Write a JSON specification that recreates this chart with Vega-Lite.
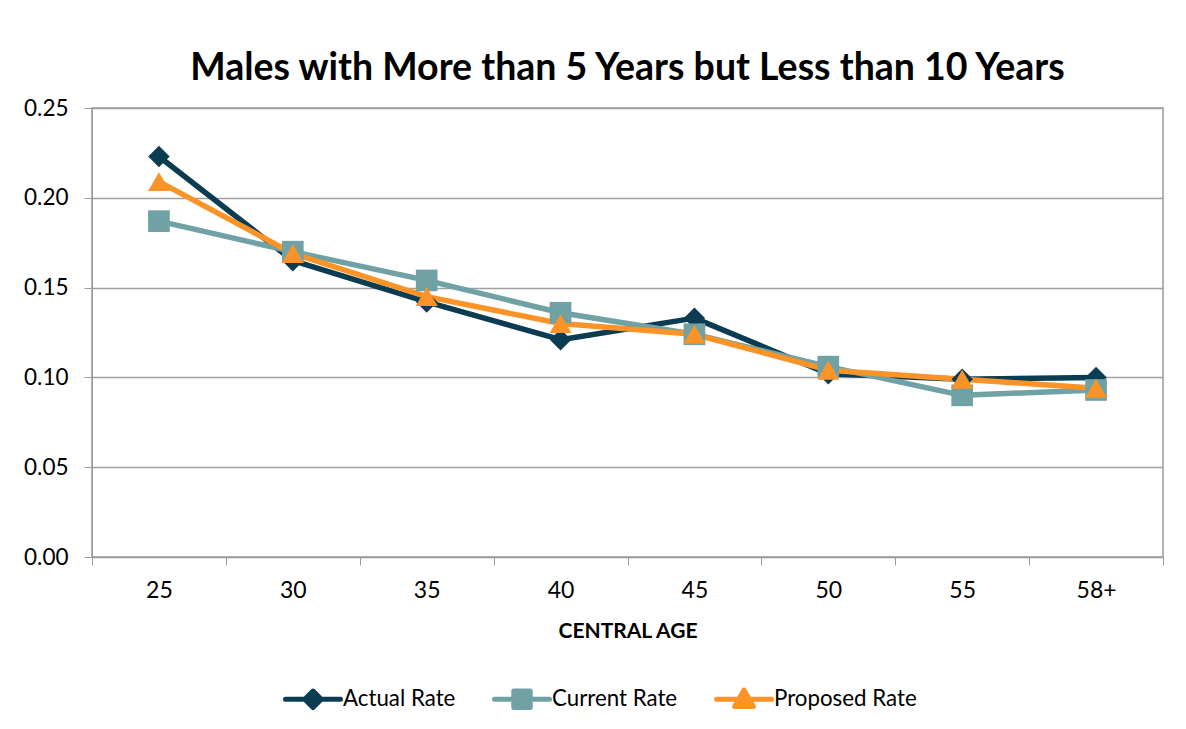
{
  "$schema": "https://vega.github.io/schema/vega-lite/v6.json",
  "width": 1071,
  "height": 449,
  "autosize": {"type": "none"},
  "padding": {"left": 92, "top": 108, "right": 23, "bottom": 172},
  "background": "white",
  "title": {
    "text": "Males with More than 5 Years but Less than 10 Years",
    "font": "Lato",
    "fontSize": 37.5,
    "fontWeight": "bold",
    "color": "#000000",
    "anchor": "middle",
    "offset": 10
  },
  "data": {
    "values": [
      {"age": "25", "series": "Actual Rate", "rate": 0.223},
      {"age": "30", "series": "Actual Rate", "rate": 0.165},
      {"age": "35", "series": "Actual Rate", "rate": 0.142},
      {"age": "40", "series": "Actual Rate", "rate": 0.121},
      {"age": "45", "series": "Actual Rate", "rate": 0.133},
      {"age": "50", "series": "Actual Rate", "rate": 0.102},
      {"age": "55", "series": "Actual Rate", "rate": 0.099},
      {"age": "58+", "series": "Actual Rate", "rate": 0.100},
      {"age": "25", "series": "Current Rate", "rate": 0.187},
      {"age": "30", "series": "Current Rate", "rate": 0.170},
      {"age": "35", "series": "Current Rate", "rate": 0.154},
      {"age": "40", "series": "Current Rate", "rate": 0.136},
      {"age": "45", "series": "Current Rate", "rate": 0.124},
      {"age": "50", "series": "Current Rate", "rate": 0.106},
      {"age": "55", "series": "Current Rate", "rate": 0.090},
      {"age": "58+", "series": "Current Rate", "rate": 0.093},
      {"age": "25", "series": "Proposed Rate", "rate": 0.209},
      {"age": "30", "series": "Proposed Rate", "rate": 0.169},
      {"age": "35", "series": "Proposed Rate", "rate": 0.145},
      {"age": "40", "series": "Proposed Rate", "rate": 0.130},
      {"age": "45", "series": "Proposed Rate", "rate": 0.124},
      {"age": "50", "series": "Proposed Rate", "rate": 0.104},
      {"age": "55", "series": "Proposed Rate", "rate": 0.099},
      {"age": "58+", "series": "Proposed Rate", "rate": 0.094}
    ]
  },
  "encoding": {
    "x": {
      "field": "age",
      "type": "ordinal",
      "sort": ["25", "30", "35", "40", "45", "50", "55", "58+"],
      "scale": {"type": "band", "paddingInner": 0, "paddingOuter": 0},
      "axis": {
        "title": "CENTRAL AGE",
        "titleFont": "Lato",
        "titleFontSize": 21,
        "titleFontWeight": "bold",
        "titleColor": "#000000",
        "titlePadding": 18,
        "labelAngle": 0,
        "labelFont": "Lato",
        "labelFontSize": 23,
        "labelColor": "#000000",
        "labelPadding": 14,
        "tickBand": "extent",
        "tickSize": 8,
        "tickColor": "#9a9a9a",
        "domainColor": "#9a9a9a",
        "grid": false
      }
    },
    "y": {
      "field": "rate",
      "type": "quantitative",
      "scale": {"domain": [0, 0.25], "nice": false, "zero": true},
      "axis": {
        "title": null,
        "values": [0, 0.05, 0.1, 0.15, 0.2, 0.25],
        "format": ".2f",
        "labelFont": "Lato",
        "labelFontSize": 22.5,
        "labelColor": "#000000",
        "labelPadding": 16,
        "tickSize": 8,
        "tickColor": "#9a9a9a",
        "domainColor": "#9a9a9a",
        "gridColor": "#a0a0a0",
        "gridWidth": 1.5
      }
    },
    "color": {
      "field": "series",
      "type": "nominal",
      "scale": {
        "domain": ["Actual Rate", "Current Rate", "Proposed Rate"],
        "range": ["#0b3c52", "#70a1a4", "#fb9326"]
      },
      "legend": {
        "orient": "none",
        "direction": "horizontal",
        "legendX": 191,
        "legendY": 561,
        "title": null,
        "labelFont": "Lato",
        "labelFontSize": 22.3,
        "labelColor": "#000000",
        "labelOffset": 0,
        "columnPadding": 36,
        "symbolSize": 3025,
        "symbolStrokeWidth": 5,
        "encode": {
          "symbols": {
            "update": {
              "shape": {
                "signal": "datum.value === 'Actual Rate' ? 'M-1,0H1M0,-0.3L0.3,0L0,0.3L-0.3,0Z' : datum.value === 'Current Rate' ? 'M-1,0H1M-0.3,-0.3H0.3V0.3H-0.3Z' : 'M-1,0H1M0,-0.34L0.34,0.26H-0.34Z'"
              },
              "size": {"value": 3025},
              "fill": {"scale": "color", "field": "value"},
              "stroke": {"scale": "color", "field": "value"},
              "strokeWidth": {"value": 5},
              "strokeCap": {"value": "round"},
              "strokeJoin": {"value": "round"},
              "opacity": {"value": 1}
            }
          }
        }
      }
    }
  },
  "layer": [
    {
      "mark": {"type": "line", "strokeWidth": 5.5, "strokeJoin": "round"}
    },
    {
      "transform": [{"filter": "datum.series === 'Actual Rate'"}],
      "mark": {"type": "point", "shape": "diamond", "size": 460, "filled": true, "opacity": 1}
    },
    {
      "transform": [{"filter": "datum.series === 'Current Rate'"}],
      "mark": {"type": "point", "shape": "square", "size": 470, "filled": true, "opacity": 1}
    },
    {
      "transform": [{"filter": "datum.series === 'Proposed Rate'"}],
      "mark": {"type": "point", "shape": "triangle-up", "size": 480, "filled": true, "opacity": 1}
    }
  ],
  "config": {
    "view": {"stroke": "#9a9a9a", "strokeWidth": 1.5}
  }
}
